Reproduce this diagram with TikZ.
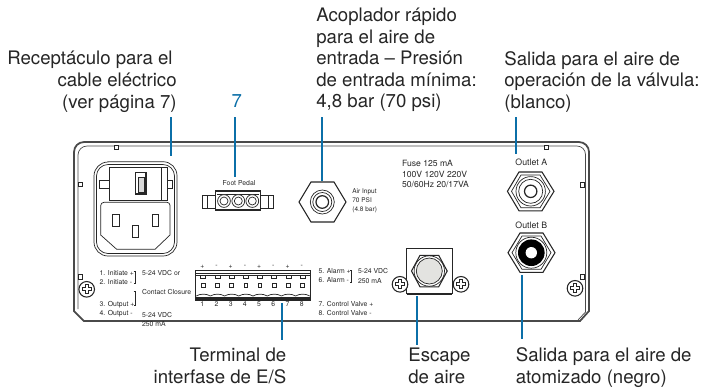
\documentclass[tikz,border=0pt]{standalone}
\usepackage{fontspec}
\setmainfont{TeX Gyre Heros}
\definecolor{leaderblue}{HTML}{0B6FA8}
\definecolor{panelgray}{HTML}{4A4A4A}
\definecolor{inkgray}{HTML}{262626}
\definecolor{platgray}{HTML}{E3E3E0}
\begin{document}
\begin{tikzpicture}[x=0.02cm,y=0.02cm]
\tikzstyle{every node}+=[inner sep=0pt]
\tikzstyle{big}=[text=inkgray,font=\fontsize{10.6}{12.3}\selectfont]
\tikzstyle{fuse}=[text=inkgray,font=\fontsize{4.9}{6}\selectfont]
\tikzstyle{tiny}=[text=inkgray,font=\fontsize{3.9}{5}\selectfont]
\tikzstyle{part}=[draw=inkgray,line width=0.4pt]
\tikzstyle{leader}=[draw=leaderblue,line width=1.1pt]
\useasboundingbox (0,0) rectangle (703,-387);
\fill [white] (0,0) rectangle (703,-387);
% panel
\draw [panelgray,line width=1pt] (74,-311) -- (74,-152) arc (180:90:10) -- (579,-142) arc (90:0:10) -- (589,-311) -- (580,-321) -- (84,-321) -- cycle;
\draw [panelgray,line width=0.4pt] (78,-309) -- (78,-155) arc (180:90:9) -- (577,-146) arc (90:0:8.5) -- (585.5,-312) -- (578,-320);
\foreach \x/\y in {116.7/-147.5,546.7/-147.5,80/-184.5,80/-277,582/-185,582/-277}
  \draw [part,fill=white] (\x-2,\y-2.3) rectangle (\x+2,\y+2.3);
% power socket
\draw [part] (108,-161.7) -- (163,-161.7) arc (90:0:14) -- (177,-242) arc (0:-90:14) -- (108,-256) arc (-90:-180:14) -- (94,-176) arc (180:90:14) -- cycle;
\draw [part] (108,-164.5) -- (163,-164.5) arc (90:0:11.5) -- (174.5,-242) arc (0:-90:11.5) -- (108,-253.5) arc (-90:-180:11.5) -- (96.5,-176) arc (180:90:11.5) -- cycle;
\draw [part] (99.3,-180) rectangle (109.3,-188);
\draw [part] (167.3,-180) rectangle (172,-188);
\draw [part,fill=white] (109.3,-167.3) rectangle (167.3,-200);
\draw [part] (161.7,-167.3) -- (161.7,-200);
\draw [part,line width=0.7pt] (135.7,-172.7) rectangle (146,-194);
\draw [part,fill=gray!30] (138.5,-177) rectangle (144,-192);
\draw [part] (104,-202.3) -- (167,-202.3) arc (90:0:3) -- (170,-235) -- (155,-249.3) -- (116.7,-249.3) -- (100.7,-235) -- (100.7,-205.6) arc (180:90:3.3) -- cycle;
\draw [part] (112.7,-214) rectangle (119,-226);
\draw [part] (152.3,-214) rectangle (158.7,-226);
\draw [part] (132.3,-225) rectangle (138.7,-237.3);
% foot pedal
\node [tiny] (footPedal) at (239,-183.3) {Foot Pedal};
\draw [part] (215.3,-195.7) -- (202.3,-195.7) -- (202.3,-208.3) -- (215.3,-208.3);
\draw [part] (207,-195.7) -- (207,-208.3);
\draw [part] (260.7,-195.7) -- (273.3,-195.7) -- (273.3,-208.3) -- (260.7,-208.3);
\draw [part] (268,-195.7) -- (268,-208.3);
\draw [part,line width=0.6pt] (215.3,-191) rectangle (260.7,-210);
\draw [part] (217,-194) -- (259,-194);
\foreach \x in {224,238.3,252.3} {
  \draw [part,fill=white] (\x,-201) circle (6.4);
  \draw [part] (\x,-201) circle (4);
}
% air input
\draw [part,line width=0.6pt] (299,-202) -- (311,-182) -- (334,-182) -- (346,-202) -- (334,-222) -- (311,-222) -- cycle;
\draw [part] (322.3,-202) circle (12);
\draw [part] (322.3,-202) circle (9.5);
\draw [part,line width=0.7pt] (322.3,-202) circle (6.3);
\node [tiny,anchor=west,font=\fontsize{3.7}{5}\selectfont] (airOne) at (352,-191.7) {Air Input};
\node [tiny,anchor=west,font=\fontsize{3.7}{5}\selectfont] (airTwo) at (352,-200.5) {70 PSI};
\node [tiny,anchor=west,font=\fontsize{3.7}{5}\selectfont] (airThree) at (352,-209.5) {(4.8 bar)};
% fuse text
\node [fuse,anchor=west] (fuseOne) at (401.7,-163.5) {Fuse 125 mA};
\node [fuse,anchor=west] (fuseTwo) at (401.7,-174) {100V 120V 220V};
\node [fuse,anchor=west] (fuseThree) at (401.7,-184.7) {50/60Hz 20/17VA};
% outlets
\node [fuse,font=\fontsize{5}{6}\selectfont] (outletA) at (531.3,-162.7) {Outlet A};
\node [fuse,font=\fontsize{5}{6}\selectfont] (outletB) at (531.3,-225.3) {Outlet B};
\draw [part,line width=0.6pt] (507.4,-191.3) -- (519,-172) -- (542,-172) -- (554,-191.3) -- (542,-210.8) -- (519,-210.8) -- cycle;
\draw [part] (511.5,-191.3) -- (521,-175) -- (540,-175) -- (550,-191.3) -- (540,-207.8) -- (521,-207.8) -- cycle;
\draw [part] (530.7,-191.3) circle (14.7);
\draw [part] (530.7,-191.3) circle (12);
\draw [part,line width=0.7pt] (530.7,-191.3) circle (6.2);
\draw [part,line width=0.6pt] (508,-252.7) -- (520,-233) -- (543,-233) -- (555,-252.7) -- (543,-272.3) -- (520,-272.3) -- cycle;
\draw [part] (512,-252.7) -- (522,-236) -- (541,-236) -- (551,-252.7) -- (541,-269.3) -- (522,-269.3) -- cycle;
\draw [part] (531.3,-252.7) circle (15.5);
\fill [black] (531.3,-252.7) circle (13.3);
\fill [white] (531.3,-252.7) circle (5.7);
% exhaust
\draw [part,line width=0.6pt,fill=white] (406.7,-294.3) -- (406.7,-248.7) -- (452.3,-248.7) -- (452.3,-294.3);
\draw [part,line width=1pt] (406.7,-294.3) -- (452.3,-294.3);
\draw [part,line width=0.6pt] (411.5,-271) -- (420,-255.3) -- (438.7,-255.3) -- (447.2,-271) -- (438.7,-286.8) -- (420,-286.8) -- cycle;
\draw [part] (429.3,-271) circle (15.2);
\draw [part,fill=platgray] (429.3,-271) circle (13);
% screws
\foreach \x/\y in {400/-284.3,461/-284.3,575/-288.3,86.7/-289.3} {
  \draw [part,line width=0.6pt,fill=white] (\x,\y) circle (7.8);
  \draw [part,line width=0.6pt] (\x-4.5,\y+1.4) -- (\x-1.4,\y+1.4) -- (\x-1.4,\y+4.5) -- (\x+1.4,\y+4.5) -- (\x+1.4,\y+1.4) -- (\x+4.5,\y+1.4) -- (\x+4.5,\y-1.4) -- (\x+1.4,\y-1.4) -- (\x+1.4,\y-4.5) -- (\x-1.4,\y-4.5) -- (\x-1.4,\y-1.4) -- (\x-4.5,\y-1.4) -- cycle;
}
% terminal block
\draw [part,line width=0.6pt] (195.7,-270.7) rectangle (310.7,-300);
\draw [part] (195.7,-273) -- (310.7,-273);
\draw [part] (195.7,-275.3) -- (310.7,-275.3);
\draw [part,line width=0.8pt] (195.7,-298) -- (310.7,-298);
\foreach \n/\x/\s in {1/203.3/+,2/217.5/-,3/231.7/+,4/245.9/-,5/260.1/+,6/274.3/-,7/288.5/+,8/302.7/-} {
  \node [tiny] (sign\n) at (\x-1,-266.7) {\s};
  \node [tiny] (pin\n) at (\x-1,-304.5) {\n};
  \draw [part,line width=0.6pt] (\x-1.8,-283.9) rectangle (\x+1.8,-287.5);
  \draw [part] (\x-2.5,-275.3) -- (\x-2.5,-278.5) -- (\x+2.5,-278.5) -- (\x+2.5,-275.3);
  \draw [part] (\x-7.1,-296) .. controls (\x-3,-293.5) and (\x+3,-293.5) .. (\x+7.1,-296);
}
% wiring text
\node [tiny,anchor=west] (initOne) at (99.3,-272.7) {1. Initiate +};
\node [tiny,anchor=west] (initTwo) at (99.3,-281.7) {2. Initiate -};
\node [tiny,anchor=west] (outOne) at (99.3,-304.7) {3. Output +};
\node [tiny,anchor=west] (outTwo) at (99.3,-313.3) {4. Output -};
\node [tiny,anchor=west] (vdcOr) at (141.7,-272.7) {5-24 VDC or};
\node [tiny,anchor=west] (closure) at (141.7,-292.3) {Contact Closure};
\node [tiny,anchor=west] (vdcLow) at (141.7,-315.3) {5-24 VDC};
\node [tiny,anchor=west] (maLow) at (141.7,-324.3) {250 mA};
\node [tiny,anchor=west] (alarmOne) at (318.3,-271.3) {5. Alarm +};
\node [tiny,anchor=west] (alarmTwo) at (318.3,-280.3) {6. Alarm -};
\node [tiny,anchor=west] (vdcAlarm) at (357.7,-271) {5-24 VDC};
\node [tiny,anchor=west] (maAlarm) at (357.7,-280.7) {250 mA};
\node [tiny,anchor=west] (valveOne) at (318.3,-303.7) {7. Control Valve +};
\node [tiny,anchor=west] (valveTwo) at (318.3,-312.7) {8. Control Valve -};
\draw [part] (133.5,-271) -- (135.7,-271) -- (135.7,-283.3) -- (133.5,-283.3);
\draw [part] (133.5,-291) -- (135.7,-291) -- (135.7,-305) -- (133.5,-305);
\draw [part] (349.5,-270.7) -- (351.7,-270.7) -- (351.7,-282.7) -- (349.5,-282.7);
% labels
\node [big,anchor=north east,align=right] (cableLabel) at (177,-51) {Receptáculo para el\kern2.3pt\\cable eléctrico\\(ver página 7)};
\node [big,text=leaderblue] (pageLabel) at (236.7,-101) {7};
\node [big,anchor=north west,align=left] (airLabel) at (316,-7.6) {Acoplador rápido\\para el aire de\\entrada – Presión\\de entrada mínima:\\4,8 bar (70 psi)};
\node [big,anchor=north west,align=left] (valveLabel) at (504,-51) {Salida para el aire de\\operación de la válvula:\\(blanco)};
\node [big,anchor=north east,align=right] (terminalLabel) at (286.6,-347.5) {Terminal de\\interfase de E/S};
\node [big,anchor=north west,align=left] (exhaustLabel) at (408,-347.5) {Escape\\de aire};
\node [big,anchor=north west,align=left] (atomLabel) at (515.5,-347.5) {Salida para el aire de\\atomizado (negro)};
% leaders
\coordinate (cableTop) at (171,-117);
\coordinate (cableEnd) at (171,-156);
\coordinate (pedalTop) at (234.7,-117);
\coordinate (pedalEnd) at (234.7,-177);
\coordinate (airTop) at (322,-117);
\coordinate (airEnd) at (322,-181);
\coordinate (outletTop) at (515.7,-117);
\coordinate (outletEnd) at (515.7,-154);
\coordinate (terminalEnd) at (282,-303);
\coordinate (terminalFoot) at (282,-340);
\coordinate (exhaustEnd) at (417,-296);
\coordinate (exhaustFoot) at (417,-344.6);
\coordinate (atomEnd) at (522,-275);
\coordinate (atomFoot) at (522,-339);
\draw [leader] (cableTop) -- (cableEnd);
\draw [leader] (pedalTop) -- (pedalEnd);
\draw [leader] (airTop) -- (airEnd);
\draw [leader] (outletTop) -- (outletEnd);
\draw [leader] (terminalEnd) -- (terminalFoot);
\draw [leader] (exhaustEnd) -- (exhaustFoot);
\draw [leader] (atomEnd) -- (atomFoot);
\end{tikzpicture}
\end{document}
